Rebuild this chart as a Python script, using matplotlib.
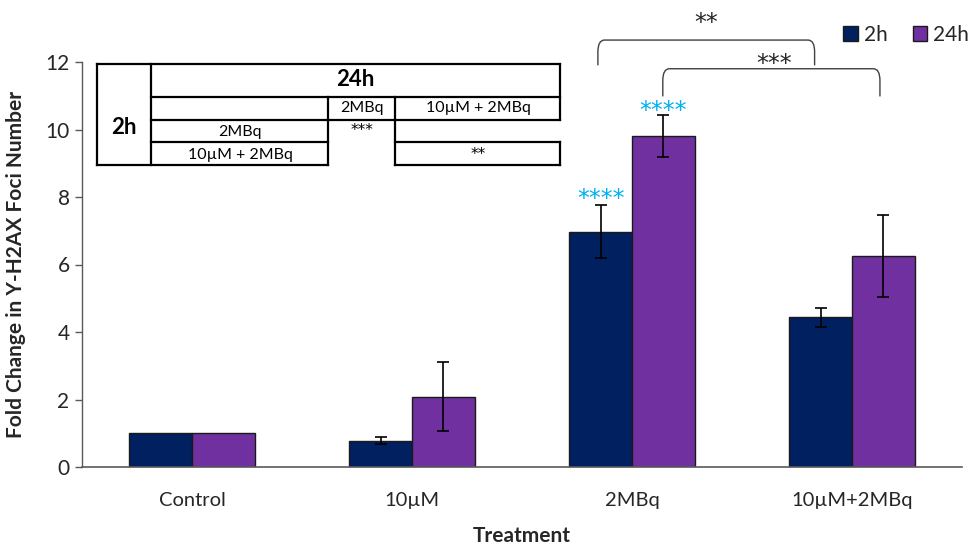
import matplotlib
matplotlib.use("Agg")
import matplotlib.pyplot as plt
import numpy as np
from matplotlib.path import Path
from matplotlib.patches import PathPatch
from matplotlib.lines import Line2D

plt.rcParams['font.family'] = ['Lato', 'DejaVu Sans']

# Data
categories = ["Control", "10µM", "2MBq", "10µM+2MBq"]
series_names = ["2h", "24h"]
vals_2h = [1.0, 0.78, 6.97, 4.43]
err_2h = [0.0, 0.10, 0.79, 0.29]
vals_24h = [1.0, 2.08, 9.80, 6.26]
err_24h = [0.0, 1.02, 0.62, 1.22]
yticks = [0, 2, 4, 6, 8, 10, 12]

# significance marks: (category index, series offset, y, text)
stars_blue = [(2, -1, 7.95, "****"), (2, 1, 10.55, "****")]
# brackets: (x_left, x_right, y_top, y_bottom, label, label_x, label_y)
brackets = [(1.845, 2.83, 12.65, 11.9, "**", 2.336, 13.15),
            (2.14, 3.127, 11.8, 10.98, "***", 2.645, 11.95)]

c2h = "#002060"
c24h = "#7030A0"
W, H = 980, 544
STAR_FONT = "DejaVu Sans"

fig = plt.figure(figsize=(W / 100, H / 100), dpi=100)
ax = fig.add_axes([82 / W, 77 / H, (962 - 82) / W, (467 - 62) / H])

x = np.arange(len(categories))
bw = 0.285
ekw = dict(ecolor="black", elinewidth=1.2, capsize=4.5, capthick=1.2)
ax.bar(x - bw / 2, vals_2h, bw, color=c2h, edgecolor="#1a1a1a", linewidth=1.0,
       label=series_names[0], zorder=2)
ax.bar(x + bw / 2, vals_24h, bw, color=c24h, edgecolor="#1a1a1a", linewidth=1.0,
       label=series_names[1], zorder=2)
for xi, v, e in zip(x - bw / 2, vals_2h, err_2h):
    if e > 0:
        ax.errorbar(xi, v, yerr=e, fmt="none", zorder=3, **ekw)
for xi, v, e in zip(x + bw / 2, vals_24h, err_24h):
    if e > 0:
        ax.errorbar(xi, v, yerr=e, fmt="none", zorder=3, **ekw)

ax.set_xlim(-0.5, 3.5)
ax.set_ylim(0, 12)
ax.set_yticks(yticks)
ax.set_xticks(x)
ax.set_xticklabels(categories, fontsize=14.5, color="#262626")
ax.tick_params(axis="x", length=0, pad=18)
ax.tick_params(axis="y", length=5, width=1, color="#595959", labelsize=15,
               labelcolor="#262626", pad=4, direction="out")
for s in ["top", "right"]:
    ax.spines[s].set_visible(False)
ax.spines["left"].set_color("#595959")
ax.spines["bottom"].set_color("#595959")
ax.spines["left"].set_linewidth(1)
ax.spines["bottom"].set_linewidth(1.2)

ax.set_ylabel("Fold Change in Y-H2AX Foci Number", fontsize=15, fontweight="bold",
              color="#262626", labelpad=14)
ax.set_xlabel("Treatment", fontsize=15, fontweight="bold", color="#262626", labelpad=12)

# blue significance stars above bars
for ci, off, yv, txt in stars_blue:
    ax.text(ci + off * bw / 2, yv, txt, ha="center", va="center", fontsize=17,
            color="#00B0F0", family=STAR_FONT, clip_on=False)

# comparison brackets with rounded corners
r = 0.03
for xl, xr, yt, yb, lab, lx, ly in brackets:
    ry = 0.35
    verts = [(xl, yb), (xl, yt - ry), (xl, yt), (xl + r, yt),
             (xr - r, yt), (xr, yt), (xr, yt - ry), (xr, yb)]
    codes = [Path.MOVETO, Path.LINETO, Path.CURVE3, Path.CURVE3,
             Path.LINETO, Path.CURVE3, Path.CURVE3, Path.LINETO]
    ax.add_patch(PathPatch(Path(verts, codes), fill=False, edgecolor="#404040",
                           linewidth=1.0, clip_on=False))
    ax.text(lx, ly, lab, ha="center", va="center", fontsize=17, color="#262626",
            family=STAR_FONT, clip_on=False)

# legend
ax.legend(loc="center right", bbox_to_anchor=(988 / W, 1 - 35 / H),
          bbox_transform=fig.transFigure, ncol=2, frameon=False, fontsize=15,
          handlelength=0.7, handleheight=0.7, handletextpad=0.3,
          columnspacing=1.2, labelcolor="#262626")

# comparison table drawn in pixel layout
def fx(px):
    return px / W

def fy(py):
    return 1 - py / H

X0, X1, X2, X3, X4 = 97, 151, 328, 395, 560
Y0, Y1, Y2, Y3, Y4 = 64, 97, 120, 142, 165
segments = [
    ((X0, Y0), (X0, Y4)), ((X0, Y0), (X4, Y0)), ((X0, Y4), (X2, Y4)),
    ((X3, Y4), (X4, Y4)), ((X1, Y0), (X1, Y4)), ((X4, Y0), (X4, Y2)),
    ((X4, Y3), (X4, Y4)), ((X1, Y1), (X4, Y1)), ((X1, Y2), (X4, Y2)),
    ((X1, Y3), (X2, Y3)), ((X3, Y3), (X4, Y3)), ((X2, Y1), (X2, Y4)),
    ((X3, Y1), (X3, Y4)),
]
for (a, b), (c, d) in segments:
    fig.add_artist(Line2D([fx(a), fx(c)], [fy(b), fy(d)], color="black",
                          linewidth=1.6, solid_capstyle="projecting"))

table_texts = [
    (355, 80, "24h", 16, "bold", None),
    (124, 127, "2h", 16, "bold", None),
    (362, 108, "2MBq", 11.5, "normal", None),
    (478, 108, "10µM + 2MBq", 11.5, "normal", None),
    (240, 132, "2MBq", 11.5, "normal", None),
    (362, 131, "***", 11, "normal", STAR_FONT),
    (240, 155, "10µM + 2MBq", 11.5, "normal", None),
    (478, 155, "**", 11, "normal", STAR_FONT),
]
for px, py, txt, fs, fw, fam in table_texts:
    kw = {"family": fam} if fam else {}
    fig.text(fx(px), fy(py), txt, ha="center", va="center", fontsize=fs,
             fontweight=fw, color="black", **kw)

fig.savefig("out.png", dpi=100)
